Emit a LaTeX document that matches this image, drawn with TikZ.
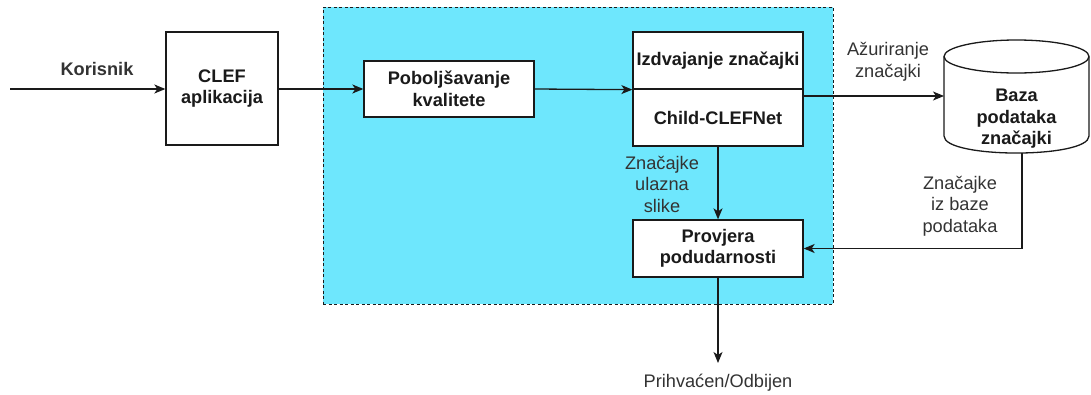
\documentclass[tikz,border=0pt]{standalone}
\usepackage{fontspec}
\setmainfont{Liberation Sans}
\usetikzlibrary{arrows.meta}
\definecolor{regionblue}{HTML}{6EE7FD}
\definecolor{ink}{HTML}{1A1A1A}
\definecolor{lbl}{HTML}{333333}
\tikzset{
  every node/.style={font=\fontsize{18.2}{21.5}\selectfont, text=ink},
  box/.style={draw=ink, line width=1.3pt, fill=white, align=center, font=\fontsize{18.2}{21.5}\selectfont\bfseries, inner sep=0pt},
  lab/.style={align=center, text=lbl},
  conn/.style={draw=ink, line width=1.3pt},
  arr/.style={conn, -{Stealth[length=11pt,width=9pt,inset=3pt]}},
  region/.style={draw=ink, line width=1pt, dash pattern=on 3pt off 2.5pt, fill=regionblue, inner sep=0pt}
}
\begin{document}
\begin{tikzpicture}[x=1pt,y=-1pt]
\useasboundingbox (0,0) rectangle (1091,394);
% region
\node[region, minimum width=510, minimum height=297] (region) at (578,155.5) {};
% nodes
\node[box, minimum width=112, minimum height=113] (clef) at (222,88.5) {CLEF\\aplikacija};
\node[box, minimum width=170, minimum height=56] (pob) at (449,89) {Poboljšavanje\\kvalitete};
\node[box, minimum width=170, minimum height=57] (izd) at (718,60.5) {Izdvajanje značajki};
\node[box, minimum width=170, minimum height=57] (child) at (718,117.5) {Child-CLEFNet};
\node[box, minimum width=170, minimum height=57] (prov) at (718,248.5) {Provjera\\podudarnosti};
% database cylinder
\coordinate (dbw) at (944,96);
\coordinate (dbb) at (1022,153);
\draw[draw=ink, line width=1.3pt, fill=white]
  (944,56.5) -- (944,136) .. controls (944,158.7) and (1089,158.7) .. (1089,136) -- (1089,56.5);
\draw[draw=ink, line width=1.3pt, fill=white] (1016.5,56.5) ellipse [x radius=72.5, y radius=16.5];
\node[align=center, font=\fontsize{18.2}{21.5}\selectfont\bfseries] (db) at (1016.5,119) {Baza\\podataka\\značajki};
% connectors
\coordinate (in) at (10,89);
\draw[arr] (in) -- (clef.west |- in);
\node[font=\fontsize{18.2}{21.5}\selectfont\bfseries, text=lbl] (kor) at (97,69) {Korisnik};
\draw[arr] (clef.east |- in) -- (pob.west);
\draw[arr] (pob.east) -- (izd.south west);
\draw[arr] (child.east |- dbw) -- (dbw);
\node[lab] (azur) at (888,62) {Ažuriranje\\značajki};
\draw[arr] (child.south) -- (prov.north);
\node[lab] (ulaz) at (662,184) {Značajke\\ulazna\\slike};
\draw[arr] (dbb) |- (prov.east);
\node[lab] (izb) at (960,206) {Značajke\\iz baze\\podataka};
\coordinate (out) at (718,363);
\draw[arr] (prov.south) -- (out);
\node[lab] (res) at (718,383) {Prihvaćen/Odbijen};
\end{tikzpicture}
\end{document}
